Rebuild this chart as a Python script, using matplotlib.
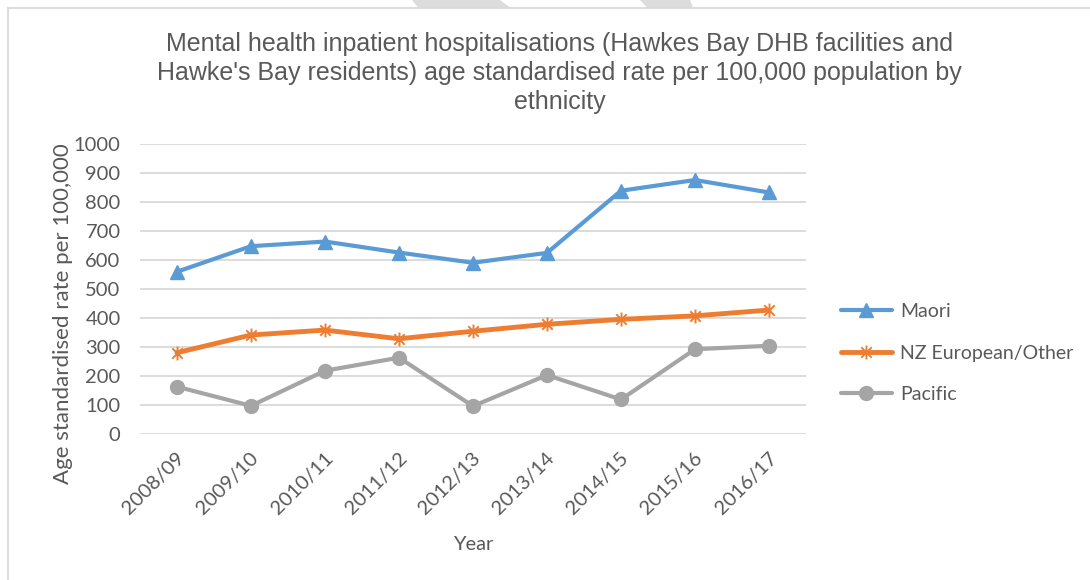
import matplotlib
matplotlib.use("Agg")
import matplotlib.pyplot as plt
from matplotlib.path import Path
from matplotlib.patches import Polygon
from matplotlib.transforms import ScaledTranslation

# Data: age standardised rate per 100,000 by ethnicity
years = ["2008/09", "2009/10", "2010/11", "2011/12", "2012/13",
         "2013/14", "2014/15", "2015/16", "2016/17"]
maori = [560, 648, 664, 626, 591, 625, 839, 876, 833]
nz_european = [281, 342, 359, 329, 355, 379, 396, 408, 428]
pacific = [164, 98, 219, 264, 97, 204, 120, 293, 305]
series_names = ["Maori", "NZ European/Other", "Pacific"]
y_ticks = [0, 100, 200, 300, 400, 500, 600, 700, 800, 900, 1000]

TEXT = "#595959"
GRID = "#d9d9d9"
BLUE = "#5B9BD5"
ORANGE = "#ED7D31"
GREY = "#A5A5A5"
BODY_FONT = ["Lato", "DejaVu Sans"]
TITLE_FONT = ["Liberation Sans", "DejaVu Sans"]

W, H = 1090, 580
fig = plt.figure(figsize=(W / 100, H / 100), dpi=100)
fig.patch.set_facecolor("white")

# Plot area in pixel terms
left, right, top, bottom = 140, 806, 144, 434.3
ax = fig.add_axes([left / W, (H - bottom) / H, (right - left) / W, (bottom - top) / H])

# Star marker: vertical stroke plus an x
star = Path(
    [(0, -1), (0, 1), (-0.75, -0.75), (0.75, 0.75), (-0.75, 0.75), (0.75, -0.75)],
    [Path.MOVETO, Path.LINETO, Path.MOVETO, Path.LINETO, Path.MOVETO, Path.LINETO],
)

x = list(range(len(years)))
ax.plot(x, maori, color=BLUE, lw=3.0, marker="^", ms=10.5, mec=BLUE, mfc=BLUE,
        label=series_names[0], solid_capstyle="round", zorder=3)
ax.plot(x, nz_european, color=ORANGE, lw=3.5, marker=star, ms=10, mec=ORANGE,
        mfc="none", mew=1.4, label=series_names[1], solid_capstyle="round", zorder=3)
ax.plot(x, pacific, color=GREY, lw=3.0, marker="o", ms=10, mec=GREY, mfc=GREY,
        label=series_names[2], solid_capstyle="round", zorder=3)

ax.set_xlim(-0.5, len(years) - 0.5)
ax.set_ylim(0, 1000)
ax.set_yticks(y_ticks)
ax.yaxis.grid(True, color=GRID, lw=1.3)
ax.set_axisbelow(True)
for s in ax.spines.values():
    s.set_visible(False)

ax.tick_params(axis="both", length=0, colors=TEXT, labelsize=14.5)
ax.tick_params(axis="y", pad=14)
ax.tick_params(axis="x", pad=15)
for lab in ax.get_yticklabels():
    lab.set_family(BODY_FONT)

ax.set_xticks(x)
ax.set_xticklabels(years, rotation=45, ha="right", va="center",
                   rotation_mode="anchor", family=BODY_FONT, fontsize=14.5)
offset = ScaledTranslation(5 / 100, 0, fig.dpi_scale_trans)
for lab in ax.get_xticklabels():
    lab.set_transform(lab.get_transform() + offset)

ax.set_xlabel("Year", fontsize=14.5, color=TEXT, family=BODY_FONT)
ax.xaxis.set_label_coords(0.5, -0.352)
ax.set_ylabel("Age standardised rate per 100,000", fontsize=16, color=TEXT,
              family=BODY_FONT)
ax.yaxis.set_label_coords(-0.1, 0.415)

leg = ax.legend(loc="center left", bbox_to_anchor=(841 / W, (H - 353) / H),
                bbox_transform=fig.transFigure, frameon=False, borderpad=0,
                borderaxespad=0, handlelength=2.6, handletextpad=0.45,
                labelspacing=1.25, prop={"family": BODY_FONT, "size": 14})
for t in leg.get_texts():
    t.set_color(TEXT)

fig.text(559.5 / W, (H - 73) / H,
         "Mental health inpatient hospitalisations (Hawkes Bay DHB facilities and\n"
         "Hawke's Bay residents) age standardised rate per 100,000 population by\n"
         "ethnicity",
         ha="center", va="center", fontsize=18, color=TEXT, family=TITLE_FONT,
         linespacing=1.24)

# Chart frame (top and left edges) and faint shapes above it
px = lambda xx, yy: (xx / W, (H - yy) / H)
fig.add_artist(plt.Line2D([px(8, 0)[0], px(8, 0)[0]], [px(0, 8)[1], 0],
                          transform=fig.transFigure, color=GRID, lw=1.3))
fig.add_artist(plt.Line2D([px(8, 0)[0], 1], [px(0, 8)[1], px(0, 8)[1]],
                          transform=fig.transFigure, color=GRID, lw=1.3))
for poly in ([(412, 0), (500, 0), (510, 7.5), (418, 7.5)],
             [(640, 0), (690, 0), (693, 7.5), (647, 7.5)]):
    fig.add_artist(Polygon([px(a, b) for a, b in poly], closed=True,
                           transform=fig.transFigure, facecolor="#dcdcdc",
                           edgecolor="none"))

fig.savefig("out.png", dpi=100, facecolor="white")
